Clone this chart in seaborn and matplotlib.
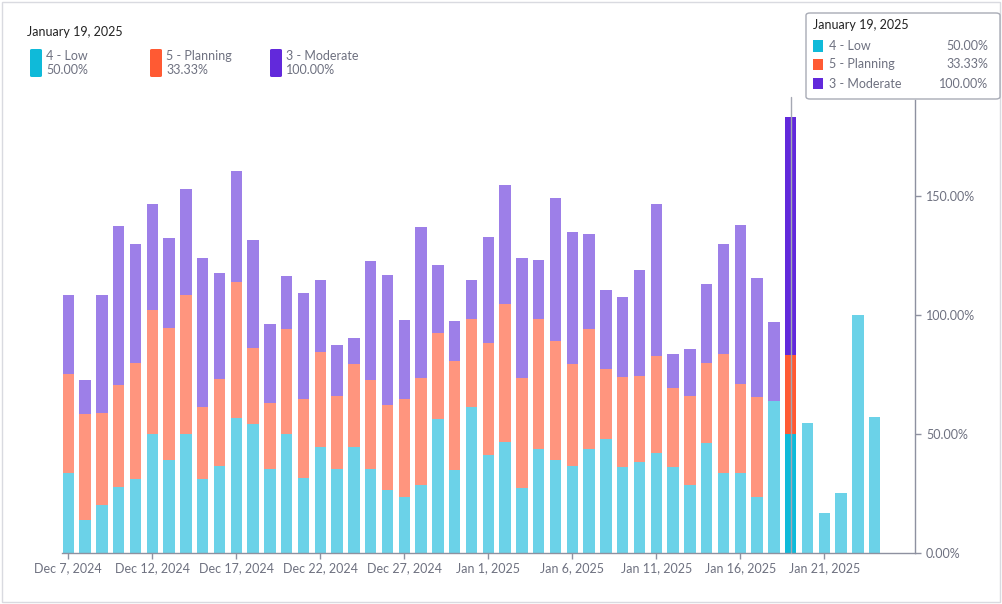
import numpy as np
import pandas as pd
import matplotlib
matplotlib.use("Agg")
import matplotlib.pyplot as plt
from matplotlib.patches import FancyBboxPatch, Rectangle
import seaborn as sns

# ---------------- data ----------------
dates = pd.date_range("2024-12-07", "2025-01-24", freq="D")
day_labels = [f"{d:%b} {d.day}, {d.year}" for d in dates]

low = [33.3, 13.7, 20.0, 27.7, 30.8, 50.0, 38.9, 50.0, 30.8, 36.4,
       56.6, 53.9, 35.0, 50.0, 31.2, 44.4, 35.0, 44.4, 35.0, 26.3,
       23.5, 28.5, 56.3, 34.6, 61.1, 41.1, 46.6, 27.3, 43.7, 38.9,
       36.4, 43.7, 47.6, 35.8, 38.1, 41.7, 35.8, 28.5, 46.1, 33.3,
       33.3, 23.3, 63.7, 50.0, 54.6, 16.5, 25.0, 100.0, 57.1]
planning = [41.8, 44.4, 38.6, 42.9, 48.9, 52.3, 55.7, 58.5, 30.4, 36.6,
            57.2, 32.0, 27.9, 44.0, 33.4, 40.2, 30.8, 34.8, 37.6, 36.0,
            41.0, 44.9, 36.0, 46.0, 37.0, 47.2, 57.9, 46.1, 54.4, 50.1,
            42.9, 50.3, 29.7, 38.2, 36.2, 41.1, 33.3, 37.2, 33.6, 50.2,
            37.6, 42.0, 0.0, 33.33, 0.0, 0.0, 0.0, 0.0, 0.0]
moderate = [33.5, 14.5, 50.0, 66.9, 50.1, 44.6, 37.6, 44.6, 62.7, 44.6,
            46.8, 45.6, 33.4, 22.3, 44.6, 30.0, 21.5, 11.0, 50.0, 54.7,
            33.2, 63.8, 28.7, 16.7, 16.7, 44.4, 50.2, 50.4, 25.1, 60.1,
            55.8, 40.0, 33.4, 33.5, 44.5, 63.8, 14.4, 19.9, 33.3, 46.2,
            66.8, 50.2, 33.4, 100.0, 0.0, 0.0, 0.0, 0.0, 0.0]

series_names = ["4 - Low", "5 - Planning", "3 - Moderate"]
hover_label = "January 19, 2025"
hover_index = 43
hover_values = ["50.00%", "33.33%", "100.00%"]
y_ticks = [0, 50, 100, 150]

# ---------------- style ----------------
light_colors = ["#6BD2E8", "#FF957E", "#9D7FE8"]
dark_colors = ["#0FBAD9", "#FF5A33", "#6229DB"]
grey_text = "#6E7180"
axis_grey = "#8E91A0"

sns.set_style("white")
plt.rcParams["font.family"] = ["Lato", "DejaVu Sans"]

W, H = 1003, 604
fig = plt.figure(figsize=(W / 100, H / 100), dpi=100)
ax = fig.add_axes([62 / W, (H - 552.5) / H, (915 - 62) / W, 452.5 / H])

df = pd.DataFrame({"day": day_labels, "low": low,
                   "planning": planning, "moderate": moderate})
df["cum_planning"] = df["low"] + df["planning"]
df["total"] = df["cum_planning"] + df["moderate"]

layers = [("total", 2), ("cum_planning", 1), ("low", 0)]
for col, ci in layers:
    n0 = len(ax.patches)
    sns.barplot(data=df, x="day", y=col, order=day_labels, color=light_colors[ci],
                saturation=1, width=0.68, ax=ax, errorbar=None,
                edgecolor="none", linewidth=0)
    new = ax.patches[n0:]
    new[hover_index].set_facecolor(dark_colors[ci])

ax.set_xlim(-0.375, 50.4)
ax.set_ylim(0, 190.5)

# ticks
xt = list(range(0, len(day_labels), 5))
ax.set_xticks(xt)
ax.set_xticklabels([day_labels[i] for i in xt], color=grey_text, fontsize=9)
ax.yaxis.tick_right()
ax.set_yticks(y_ticks)
ax.set_yticklabels([f"{v:.2f}%" for v in y_ticks], color=grey_text, fontsize=9)
ax.tick_params(axis="x", length=4, width=1, color=axis_grey, pad=3, bottom=True)
ax.tick_params(axis="y", length=4, width=1, color=axis_grey, pad=4, right=True, left=False)
ax.set_xlabel("")
ax.set_ylabel("")
for s in ["left", "top"]:
    ax.spines[s].set_visible(False)
for s in ["bottom", "right"]:
    ax.spines[s].set_color(axis_grey)
    ax.spines[s].set_linewidth(1)
ax.grid(False)

# hover line
ax.plot([hover_index, hover_index], [0, 191.9], color="#A5A8B3", lw=1,
        clip_on=False, zorder=5)

# ---------------- helpers in pixel coords ----------------
def fx(x):
    return x / W

def fy(y):
    return (H - y) / H

# outer frame
fig.patches.append(Rectangle((fx(2), fy(602)), fx(998), 600 / H, transform=fig.transFigure,
                             fill=False, edgecolor="#D9DAE0", lw=1))

# left legend
fig.text(fx(27), fy(32), hover_label, fontsize=9, color="#222222", va="center", ha="left")
sw_x = [30, 150, 270]
for i, name in enumerate(series_names):
    fig.patches.append(FancyBboxPatch((fx(sw_x[i]), fy(77)), fx(12), 28 / H,
                                      boxstyle="round,pad=0,rounding_size=0.002",
                                      transform=fig.transFigure, facecolor=dark_colors[i],
                                      edgecolor="none"))
    fig.text(fx(sw_x[i] + 16), fy(56), name, fontsize=9, color=grey_text, va="center", ha="left")
    fig.text(fx(sw_x[i] + 16), fy(70), hover_values[i], fontsize=9, color=grey_text,
             va="center", ha="left")

# tooltip box
fig.patches.append(FancyBboxPatch((fx(806), fy(99)), fx(194), 86 / H,
                                  boxstyle="round,pad=0,rounding_size=0.004",
                                  transform=fig.transFigure, facecolor="white",
                                  edgecolor="#A8ABB5", lw=1, zorder=10))
fig.text(fx(813), fy(25), hover_label, fontsize=9, color="#222222", va="center",
         ha="left", zorder=11)
row_y = [46, 64.5, 83.5]
for i, name in enumerate(series_names):
    fig.patches.append(Rectangle((fx(813), fy(row_y[i] + 5.5)), fx(10), 11 / H,
                                 transform=fig.transFigure, facecolor=dark_colors[i],
                                 edgecolor="none", zorder=11))
    fig.text(fx(829), fy(row_y[i]), name, fontsize=9, color=grey_text, va="center",
             ha="left", zorder=11)
    fig.text(fx(988), fy(row_y[i]), hover_values[i], fontsize=9, color=grey_text,
             va="center", ha="right", zorder=11)

fig.savefig("out.png", dpi=100)
